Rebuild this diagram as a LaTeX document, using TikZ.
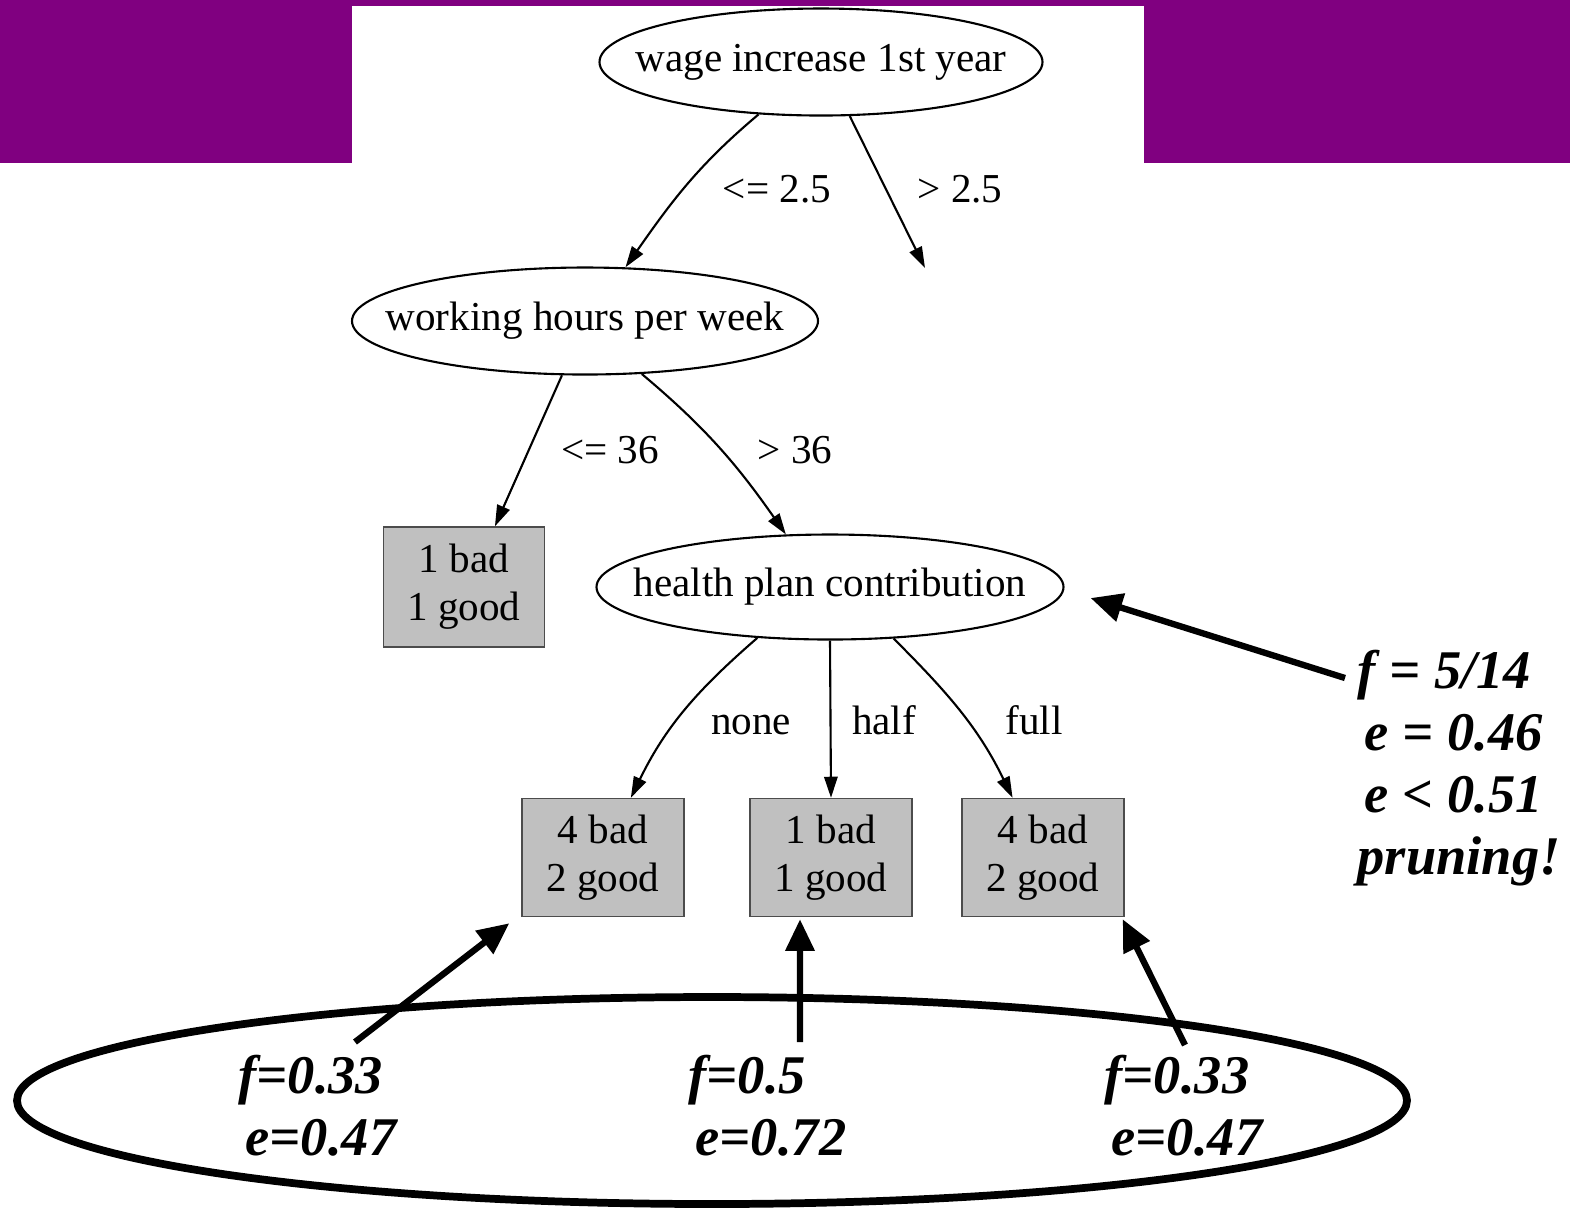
\documentclass[tikz,border=0pt]{standalone}
\usepackage{fontspec}
\setmainfont{Liberation Serif}
\usepackage{tikz}
\usetikzlibrary{arrows.meta, shapes.geometric, calc, positioning}

\definecolor{bandpurple}{HTML}{800080}
\definecolor{leafgray}{HTML}{C0C0C0}

\begin{document}
\begin{tikzpicture}[
		test/.style={draw, ellipse, inner sep=0pt, line width=0.6pt, minimum height=1.07cm, font=\fontsize{11.7}{13.7}\selectfont},
		leaf/.style={draw=black!70, fill=leafgray, line width=0.4pt, minimum width=1.61cm, minimum height=1.18cm, align=center, font=\fontsize{11.7}{13.7}\selectfont},
		edge/.style={-{Triangle[length=6pt,width=3.8pt]}, line width=0.6pt},
		lbl/.style={text height=1.6ex, text depth=0.3ex, font=\fontsize{11.7}{13.7}\selectfont},
		note/.style={align=left, inner sep=0pt, font=\fontsize{15.5}{17.6}\selectfont\bfseries\itshape},
		notearrow/.style={-{Triangle[length=9pt,width=8pt]}, line width=1.8pt}
	]
			% Background and band
			\useasboundingbox (0,0) rectangle (15.7,-12.08);
			\fill[white] (0,0) rectangle (15.7,-12.08);
			\fill[bandpurple] (0,0) rectangle (15.7,-1.63);
			\fill[white] (3.52,-0.06) rectangle (11.44,-1.63);
			
			% Tests
			\node[test, minimum width=4.43cm] (wage) at (8.21,-0.62) {\makebox[0pt]{wage increase 1st year}};
			\node[test, minimum width=4.66cm] (work) at (5.85,-3.21) {\makebox[0pt]{working hours per week}};
			\node[test, minimum width=4.67cm, minimum height=1.05cm] (health) at (8.30,-5.87) {\makebox[0pt]{health plan contribution}};
			\coordinate (open) at (9.25,-2.68);
			
			% Leaves
			\node[leaf, minimum height=1.2cm] (leafL) at (4.64,-5.87) {1 bad\\1 good};
			\node[leaf, minimum width=1.62cm] (leafA) at (6.03,-8.575) {4 bad\\2 good};
			\node[leaf, minimum width=1.62cm] (leafB) at (8.31,-8.575) {1 bad\\1 good};
			\node[leaf, minimum width=1.62cm] (leafC) at (10.43,-8.575) {4 bad\\2 good};
			
			% Branches
			\draw[edge] (wage.-140) to[out=-140, in=55] (work.53);
			\draw[edge] (wage.-62) -- (open);
			\draw[edge] (work.-113) -- (leafL.63);
			\draw[edge] (work.-43) to[out=-40, in=125] (health.130);
			\draw[edge] (health.-145) to[out=-139, in=64] (leafA.65);
			\draw[edge] (health.south) -- (leafB.north);
			\draw[edge] (health.-39) to[out=-45, in=116] (leafC.117);
			
			\node[lbl] (l1) at (7.77,-1.92) {<= 2.5};
			\node[lbl] (l2) at (9.60,-1.92) {> 2.5};
			\node[lbl] (l3) at (6.10,-4.53) {<= 36};
			\node[lbl] (l4) at (7.95,-4.53) {> 36};
			\node[lbl] (l5) at (7.51,-7.24) {none};
			\node[lbl] (l6) at (8.84,-7.24) {half};
			\node[lbl] (l7) at (10.34,-7.24) {full};
			
			% Pruning note
			\node[note, anchor=west] (prune) at (13.57,-7.68) {f = 5/14\\\hspace*{2pt}e = 0.46\\\hspace*{2pt}e < 0.51\\pruning!};
			\coordinate (pruneTail) at (13.45,-6.78);
			\draw[notearrow] (pruneTail) -- ([xshift=0.26cm, yshift=-0.11cm]health.east);
			
			% Estimates for the three leaves
			\node[draw, ellipse, line width=2.2pt, minimum width=13.9cm, minimum height=2.07cm] (group) at (7.12,-11.005) {};
			\node[note, anchor=west] (estA) at (2.38,-11.06) {f=0.33\\\hspace*{2pt}e=0.47};
			\node[note, anchor=west] (estB) at (6.88,-11.06) {f=0.5\\\hspace*{2pt}e=0.72};
			\node[note, anchor=west] (estC) at (11.04,-11.06) {f=0.33\\\hspace*{2pt}e=0.47};
			\coordinate (tailA) at (3.55,-10.42);
			\coordinate (tailB) at (8.00,-10.42);
			\coordinate (tailC) at (11.85,-10.45);
			\draw[notearrow] (tailA) -- ([xshift=-0.12cm, yshift=-0.06cm]leafA.south west);
			\draw[notearrow] (tailB) -- ([xshift=-0.31cm, yshift=-0.02cm]leafB.south);
			\draw[notearrow] (tailC) -- ([xshift=-0.02cm, yshift=-0.02cm]leafC.south east);
		\end{tikzpicture}
\end{document}
